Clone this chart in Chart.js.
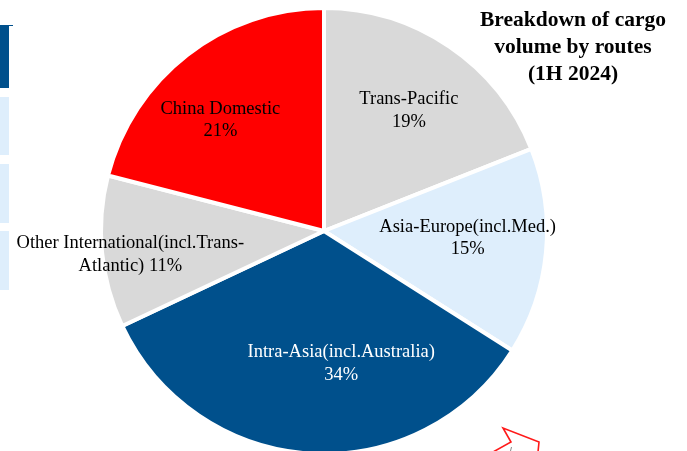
<!DOCTYPE html>
<html>
<head>
<meta charset="utf-8">
<script src="https://cdn.jsdelivr.net/npm/chart.js@4"></script>
<style>
  html, body { margin: 0; padding: 0; background: #fff; overflow: hidden; }
  #wrap { position: relative; width: 687px; height: 451px; }
  #title {
    position: absolute; left: 461px; top: 6px; width: 224px;
    font: bold 21.5px "Liberation Serif", "Times New Roman", serif;
    line-height: 27px; text-align: center; color: #000;
  }
  .tab { position: absolute; left: 0; width: 9px; }
</style>
</head>
<body>
<div id="wrap">
  <canvas id="cargo-chart" width="687" height="451"></canvas>
  <div class="tab" style="top:25px;height:63px;background:#00508c;"></div>
  <div class="tab" style="top:25px;height:1px;width:13px;background:#00508c;"></div>
  <div class="tab" style="top:97px;height:58px;background:#deeefc;"></div>
  <div class="tab" style="top:164px;height:59px;background:#deeefc;"></div>
  <div class="tab" style="top:231px;height:59px;background:#deeefc;"></div>
  <div id="title">Breakdown of cargo<br>volume by routes<br>(1H 2024)</div>
</div>
<script>
        const routes = ['Trans-Pacific', 'Asia-Europe(incl.Med.)', 'Intra-Asia(incl.Australia)', 'Other International(incl.Trans-Atlantic)', 'China Domestic'];
        const shares = [19, 15, 34, 11, 21];
        const sliceColors = ['#d9d9d9', '#deeefc', '#00508c', '#d9d9d9', '#ff0000'];

        // how each label is broken into lines and where it sits inside its slice
        const labelLines = [
            ['Trans-Pacific', '{v}%'],
            ['Asia-Europe(incl.Med.)', '{v}%'],
            ['Intra-Asia(incl.Australia)', '{v}%'],
            ['Other International(incl.Trans-', 'Atlantic) {v}%'],
            ['China Domestic', '{v}%']
        ];
        const labelPlace = [
            { frac: 0.66, turn: 1 },
            { frac: 0.645, turn: -2.6 },
            { frac: 0.60, turn: -11 },
            { frac: 0.875, turn: -1.6 },
            { frac: 0.68, turn: -5.3 }
        ];
        const labelColors = ['#000', '#000', '#fff', '#000', '#000'];

        const sliceLabels = {
            id: 'sliceLabels',
            afterDatasetsDraw(chart) {
                const ctx = chart.ctx;
                const meta = chart.getDatasetMeta(0);
                ctx.save();
                ctx.font = '18.5px "Liberation Serif", "Times New Roman", serif';
                ctx.textAlign = 'center';
                ctx.textBaseline = 'middle';
                meta.data.forEach((arc, i) => {
                    const p = arc.getProps(['x', 'y', 'startAngle', 'endAngle', 'outerRadius'], true);
                    const mid = (p.startAngle + p.endAngle) / 2 + labelPlace[i].turn * Math.PI / 180;
                    const r = p.outerRadius * labelPlace[i].frac;
                    const cx = p.x + Math.cos(mid) * r;
                    const cy = p.y + Math.sin(mid) * r;
                    const lines = labelLines[i].map(t => t.replace('{v}', shares[i]));
                    const lh = 22.5;
                    ctx.fillStyle = labelColors[i];
                    lines.forEach((t, k) => {
                        ctx.fillText(t, cx, cy + (k - (lines.length - 1) / 2) * lh);
                    });
                });
                ctx.restore();
            }
        };

        // stray red callout mark cut off at the bottom of the slide
        const callout = {
            id: 'callout',
            afterDraw(chart) {
                const ctx = chart.ctx;
                ctx.save();
                ctx.strokeStyle = '#ff1a1a';
                ctx.lineWidth = 1.6;
                ctx.beginPath();
                ctx.moveTo(493, 452);
                ctx.lineTo(511, 442);
                ctx.lineTo(503, 428);
                ctx.lineTo(539, 442);
                ctx.lineTo(538, 452);
                ctx.stroke();
                ctx.strokeStyle = '#888';
                ctx.lineWidth = 1;
                ctx.beginPath();
                ctx.moveTo(511.5, 447);
                ctx.lineTo(510.5, 451);
                ctx.stroke();
                ctx.restore();
            }
        };

        const ctx = document.getElementById('cargo-chart').getContext('2d');
        const chart = new Chart(ctx, {
            type: 'pie',
            data: {
                labels: routes,
                datasets: [{
                    data: shares,
                    backgroundColor: sliceColors,
                    borderColor: '#ffffff',
                    borderWidth: 4,
                    radius: 223
                }]
            },
            options: {
                responsive: false,
                animation: false,
                layout: { padding: { left: 0, right: 39, top: 11, bottom: 0 } },
                plugins: {
                    legend: { display: false },
                    tooltip: { enabled: false },
                    title: { display: false }
                }
            },
            plugins: [sliceLabels, callout]
        });
</script>
</body>
</html>
